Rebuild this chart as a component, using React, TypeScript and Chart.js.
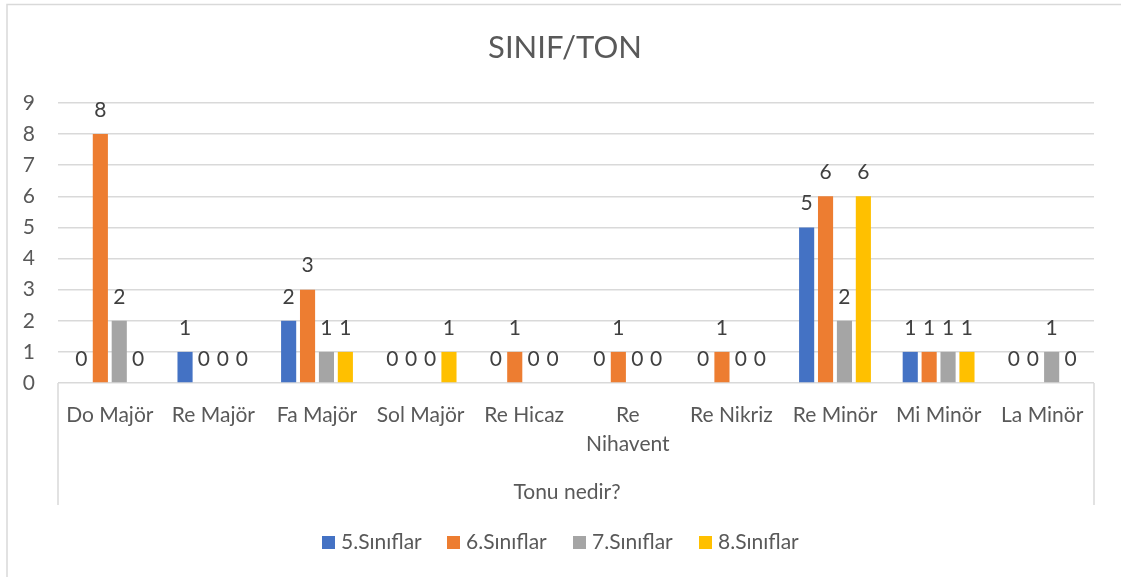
import React, { useEffect, useRef } from "react";
import { Chart, registerables } from "chart.js";

Chart.register(...registerables);

const categories: (string | string[])[] = [
  "Do Majör",
  "Re Majör",
  "Fa Majör",
  "Sol Majör",
  "Re Hicaz",
  ["Re", "Nihavent"],
  "Re Nikriz",
  "Re Minör",
  "Mi Minör",
  "La Minör",
];

const seriesNames = ["5.Sınıflar", "6.Sınıflar", "7.Sınıflar", "8.Sınıflar"];
const grade5 = [0, 1, 2, 0, 0, 0, 0, 5, 1, 0];
const grade6 = [8, 0, 3, 0, 1, 1, 1, 6, 1, 0];
const grade7 = [2, 0, 1, 0, 0, 0, 0, 2, 1, 1];
const grade8 = [0, 0, 1, 1, 0, 0, 0, 6, 1, 0];
const seriesColors = ["#4472C4", "#ED7D31", "#A5A5A5", "#FFC000"];
const yTicks = [0, 1, 2, 3, 4, 5, 6, 7, 8, 9];

const chartTitle = "SINIF/TON";
const axisTitle = "Tonu nedir?";

const FONT = "Lato, 'Open Sans', sans-serif";
const TEXT = "#595959";
const FS = 21;

const decorPlugin = {
  id: "decor",
  beforeDraw(chart: any) {
    const ctx = chart.ctx;
    ctx.save();
    ctx.fillStyle = "#ffffff";
    ctx.fillRect(0, 0, chart.width, chart.height);
    ctx.strokeStyle = "#D9D9D9";
    ctx.lineWidth = 1.5;
    ctx.beginPath();
    ctx.moveTo(7, chart.height + 2);
    ctx.lineTo(7, 4.5);
    ctx.lineTo(chart.width + 2, 4.5);
    ctx.stroke();
    ctx.restore();
  },
  afterDraw(chart: any) {
    const ctx = chart.ctx;
    const area = chart.chartArea;
    ctx.save();
    // title
    ctx.fillStyle = TEXT;
    ctx.font = `31px ${FONT}`;
    ctx.textAlign = "center";
    ctx.textBaseline = "middle";
    ctx.fillText(chartTitle, 565, 48);
    // axis box lines
    ctx.strokeStyle = "#D9D9D9";
    ctx.lineWidth = 1.5;
    ctx.beginPath();
    ctx.moveTo(area.left, area.bottom);
    ctx.lineTo(area.left, 505);
    ctx.moveTo(area.right, area.bottom);
    ctx.lineTo(area.right, 505);
    ctx.stroke();
    // axis title
    ctx.fillStyle = TEXT;
    ctx.font = `${FS}px ${FONT}`;
    ctx.fillText(axisTitle, 567, 492);
    // data labels
    ctx.fillStyle = "#404040";
    ctx.font = `${FS}px ${FONT}`;
    chart.data.datasets.forEach((ds: any, i: number) => {
      const meta = chart.getDatasetMeta(i);
      meta.data.forEach((bar: any, j: number) => {
        ctx.fillText(String(ds.data[j]), bar.x, bar.y - 24);
      });
    });
    // legend
    const legendX = [322, 447, 573, 699];
    ctx.textAlign = "left";
    ctx.font = `${FS}px ${FONT}`;
    chart.data.datasets.forEach((ds: any, i: number) => {
      ctx.fillStyle = ds.backgroundColor;
      ctx.fillRect(legendX[i], 536, 13, 13);
      ctx.fillStyle = TEXT;
      ctx.fillText(ds.label, legendX[i] + 19, 542);
    });
    ctx.restore();
  },
};

export default function App() {
  const canvasRef = useRef<HTMLCanvasElement | null>(null);

  useEffect(() => {
    if (!canvasRef.current) return;
    const data = [grade5, grade6, grade7, grade8];
    const chart = new Chart(canvasRef.current, {
      type: "bar",
      data: {
        labels: categories,
        datasets: seriesNames.map((name, i) => ({
          label: name,
          data: data[i],
          backgroundColor: seriesColors[i],
          borderWidth: 0,
          categoryPercentage: 0.73,
          barPercentage: 0.8,
        })),
      },
      options: {
        animation: false,
        responsive: false,
        maintainAspectRatio: false,
        layout: { padding: { left: 8, right: 27, top: 103, bottom: 0 } },
        plugins: {
          legend: { display: false },
          title: { display: false },
          tooltip: { enabled: false },
        },
        scales: {
          x: {
            grid: { display: false, drawTicks: false },
            border: { display: false },
            ticks: {
              color: TEXT,
              font: { family: FONT, size: FS, lineHeight: 1.38 },
              padding: 18,
              maxRotation: 0,
              autoSkip: false,
            },
            afterFit: (axis: any) => {
              axis.height = 194;
            },
          },
          y: {
            min: 0,
            max: 9,
            afterBuildTicks: (axis: any) => {
              axis.ticks = yTicks.map((v) => ({ value: v }));
            },
            grid: { color: "#D9D9D9", lineWidth: 1.5, drawTicks: false },
            border: { display: false },
            ticks: {
              color: TEXT,
              font: { family: FONT, size: FS },
              padding: 23,
            },
            afterFit: (axis: any) => {
              axis.width = 50;
            },
          },
        },
      },
      plugins: [decorPlugin],
    });
    return () => chart.destroy();
  }, []);

  return (
    <div style={{ position: "fixed", left: 0, top: 0, width: 1121, height: 577, background: "#fff" }}>
      <canvas ref={canvasRef} width={1121} height={577} style={{ width: 1121, height: 577, display: "block" }} />
    </div>
  );
}
